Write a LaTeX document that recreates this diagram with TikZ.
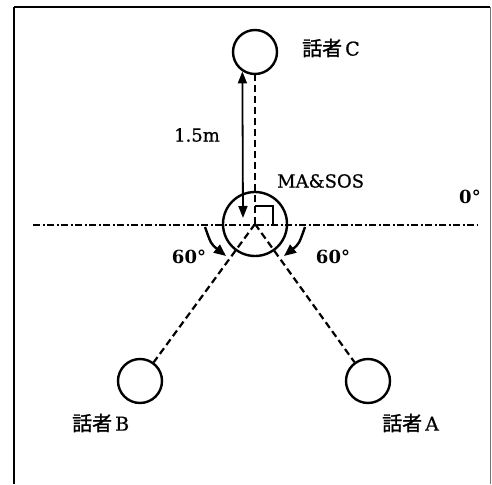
\documentclass[tikz,border=0pt]{standalone}
\usepackage{fontspec}
\setmainfont{DejaVu Serif}
\newfontfamily\lblfont[FakeBold=0.7]{DejaVu Serif}
\newfontfamily\cjk[FakeBold=1.2]{Noto Sans CJK JP}
\usetikzlibrary{arrows.meta}
\begin{document}
\begin{tikzpicture}[x=1pt,y=-1pt,
  spk/.style={circle,draw,line width=2.4pt,minimum size=44pt,inner sep=0pt},
  mic/.style={circle,draw,line width=2.4pt,minimum size=64pt,inner sep=0pt},
  dsh/.style={line width=2.2pt,dash pattern=on 7pt off 4pt},
  dashdotline/.style={line width=2pt,dash pattern=on 7pt off 2.5pt on 2pt off 2.5pt},
  dist/.style={line width=1.8pt,{Triangle[length=12pt,width=9pt]}-{Triangle[length=12pt,width=9pt]}},
  ang/.style={line width=2.4pt,-{Triangle[length=12pt,width=10pt]}},
  lbl/.style={inner sep=0pt,font=\lblfont\fontsize{18}{20}\selectfont},
  blbl/.style={inner sep=0pt,font=\fontsize{18}{20}\selectfont\bfseries},
  jlbl/.style={inner sep=0pt,font=\lblfont\fontsize{19}{21}\selectfont}]
\useasboundingbox (0,0) rectangle (492,484);
% frame
\draw[line width=2.5pt] (14,484) -- (14,7);
\draw[line width=1.3pt] (14,7) -- (490,7);
\draw[line width=1pt,black!55] (490,7) -- (490,484);
% nodes
\node[spk] (C) at (255,52) {};
\node[spk] (B) at (140,381) {};
\node[spk] (A) at (368,381) {};
\node[mic] (M) at (255,224) {};
% reference line
\coordinate (L) at (33,225);
\coordinate (R) at (477,225);
\draw[dashdotline] (L) -- (R);
% dashed lines to speakers
\draw[dsh] (M.center) -- (C);
\draw[dsh] (M.center) -- (A);
\draw[dsh] (M.center) -- (B);
% right angle mark
\draw[line width=1.8pt] ([yshift=18pt]M.center) -- ++(18,0) -- ++(0,18);
% distance arrow
\coordinate (mtip) at (243,218);
\draw[dist] (C.-123) -- (mtip);
% angle arrows
\coordinate (la) at (205,227);
\coordinate (lb) at (226,256);
\coordinate (ra) at (305,227);
\coordinate (rb) at (284,256);
\draw[ang] (la) .. controls (211,244) .. (lb);
\draw[ang] (ra) .. controls (299,244) .. (rb);
% labels
\node[jlbl,anchor=west] (tC) at (302,48) {{\cjk\fontsize{20}{22}\selectfont 話者}\hspace{3pt}C};
\node[jlbl,anchor=west] (tB) at (72,423) {{\cjk\fontsize{20}{22}\selectfont 話者}\hspace{3pt}B};
\node[jlbl,anchor=west] (tA) at (382,423) {{\cjk\fontsize{20}{22}\selectfont 話者}\hspace{3pt}A};
\node[lbl] (d) at (197,135) {1.5m};
\node[lbl,anchor=west] (ms) at (277,181) {MA\&SOS};
\node[blbl] (z) at (470,197) {0°};
\node[blbl] (l60) at (189,257) {60°};
\node[blbl] (r60) at (333,257) {60°};
\end{tikzpicture}
\end{document}
